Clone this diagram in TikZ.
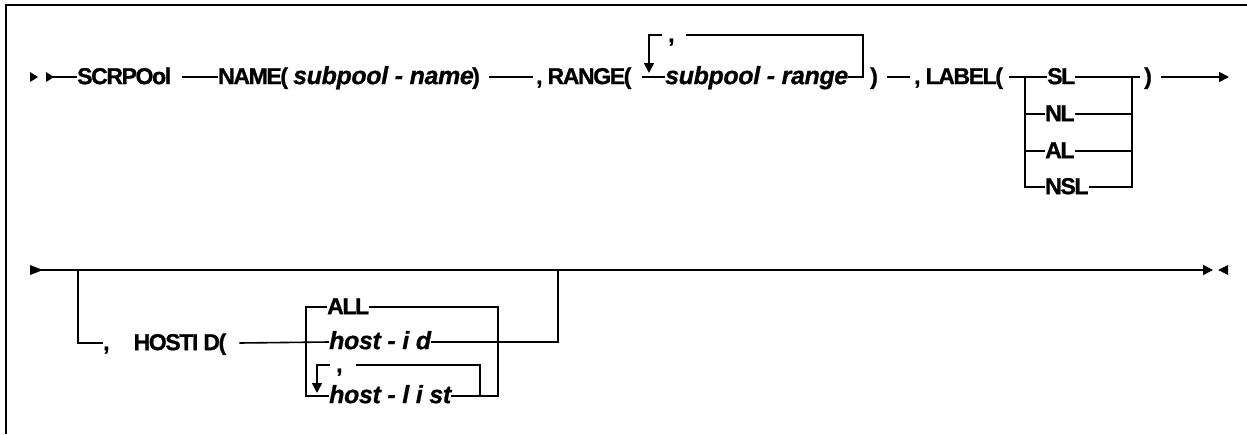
\documentclass[tikz,border=0pt]{standalone}
\usepackage{fontspec}
\setmainfont{Liberation Sans}
\newfontfamily\kwfont[LetterSpace=-6.0,FakeBold=1.0]{Liberation Sans Bold}
\newfontfamily\argfont[LetterSpace=-1.5,FakeBold=0.8]{Liberation Sans Bold Italic}
\usetikzlibrary{arrows.meta}

\tikzset{
  kw/.style={font=\fontsize{23}{26}\selectfont\kwfont, inner sep=0pt, anchor=mid west},
  arg/.style={font=\fontsize{25}{28}\selectfont\argfont, inner sep=0pt, anchor=mid west},
  rail/.style={line width=1.6pt},
  tip/.style={-{Triangle[length=10pt,width=10pt]}},
  frameline/.style={line width=2pt},
}

\begin{document}
% outer size sets the height of the mid anchors above the baselines
\fontsize{27}{30}\selectfont
\begin{tikzpicture}[x=1pt,y=-1pt]
\useasboundingbox (0,0) rectangle (1247,434);

% outer frame (top and left edges)
\draw[frameline] (6,434) -- (6,5) -- (1247,5);

% ---------------- first rail ----------------
\fill (30,72) -- (38,77) -- (30,82) -- cycle;
\fill (46,72) -- (54,77) -- (46,82) -- cycle;
\coordinate (start1) at (46,77);

\node[kw]  (scrpool)   at (77,77)  {SCRPOol};
\node[kw]  (name)      at (218,77) {NAME(};
\node[arg] (nameArg)   at (293,77) {subpool - name};
\node[kw]  (nameClose) at ([xshift=-2pt]nameArg.mid east) {)};
\node[kw]  (range)     at (536,77) {, RANGE(};
\node[arg] (rangeArg)  at (665,77) {subpool - range};
\node[kw]  (rcomma)    at (668,35) {,};
\node[kw]  (rangeClose) at (870,77) {)};
\node[kw]  (label)     at (914,77) {, LABEL(};
\node[kw]  (sl)        at (1047,77)  {SL};
\node[kw]  (nl)        at (1045,114) {NL};
\node[kw]  (al)        at (1045,151) {AL};
\node[kw]  (nsl)       at (1045,187) {NSL};
\node[kw]  (labelClose) at (1144,77) {)};

\coordinate (rl) at (649,35);
\coordinate (rr) at (863,35);
\coordinate (lL) at (1025,77);
\coordinate (lR) at (1132,77);
\coordinate (end1) at (1229,77);

\draw[rail] (start1) -- (scrpool.mid west);
\draw[rail] ([xshift=11pt]scrpool.mid east) -- (name.mid west);
\draw[rail] ([xshift=9pt]nameClose.mid east) -- ([xshift=-3pt]range.mid west);
\draw[rail] ([xshift=10pt]range.mid east) -- (rangeArg.mid west);
% repeat loop over subpool-range
\draw[rail] (rangeArg.mid east) -- (rr |- rangeArg.mid east) -- (rr) -- ([xshift=11pt]rcomma.mid east);
\draw[rail,tip] ([xshift=-6pt]rcomma.mid west) -- (rl) -- ([yshift=4pt]rl |- rangeArg.mid west);
\draw[rail] ([xshift=9pt]rangeClose.mid east) -- ([xshift=-4pt]label.mid west);
% LABEL choices
\draw[rail] ([xshift=6pt]label.mid east) -- (sl.mid west);
\draw[rail] (sl.mid east) -- ([xshift=-4pt]labelClose.mid west);
\draw[rail] (lL) |- (nsl.mid west);
\draw[rail] (lL |- nl.mid west) -- (nl.mid west);
\draw[rail] (lL |- al.mid west) -- (al.mid west);
\draw[rail] (nsl.mid east) -| (lR);
\draw[rail] (nl.mid east) -- (lR |- nl.mid east);
\draw[rail] (al.mid east) -- (lR |- al.mid east);
\draw[rail,tip] ([xshift=9pt]labelClose.mid east) -- (end1);

% ---------------- second rail ----------------
\coordinate (start2) at (30,270);
\coordinate (end2) at (1213,270);
\fill (30,265) -- (43,270) -- (30,275) -- cycle;
\fill (1228,265) -- (1218,270) -- (1228,275) -- cycle;
\draw[rail,tip] (start2) -- (end2);

\coordinate (bL) at (78,270);
\coordinate (bR) at (558,270);
\coordinate (hL) at (306,307);
\coordinate (hR) at (498,307);
\coordinate (ql) at (317,365);
\coordinate (qr) at (480,365);

\node[kw]  (hostid) at (103,343) {,\hspace{24pt}HOSTI D(};
\node[kw]  (all)    at (327,307) {ALL};
\node[arg] (hid)    at (329,342) {host - i d};
\node[arg] (hlist)  at (329,396) {host - l i st};
\node[kw]  (hcomma) at (336,365) {,};

\draw[rail] (bL) |- (hostid.mid west);
\draw[rail] ([xshift=13pt]hostid.mid east) -- (hid.mid west);
\draw[rail] (hid.mid east) -| (bR);
% HOSTID choices
\draw[rail] (all.mid west) -- (hL) |- (hlist.mid west);
\draw[rail] (all.mid east) -- (hR) |- (hlist.mid east);
% repeat loop over host-list
\draw[rail] (qr |- hlist.mid east) -- (qr) -- ([xshift=13pt]hcomma.mid east);
\draw[rail,tip] ([xshift=-6pt]hcomma.mid west) -- (ql) -- ([yshift=3pt]ql |- hlist.mid west);
\end{tikzpicture}
\end{document}
